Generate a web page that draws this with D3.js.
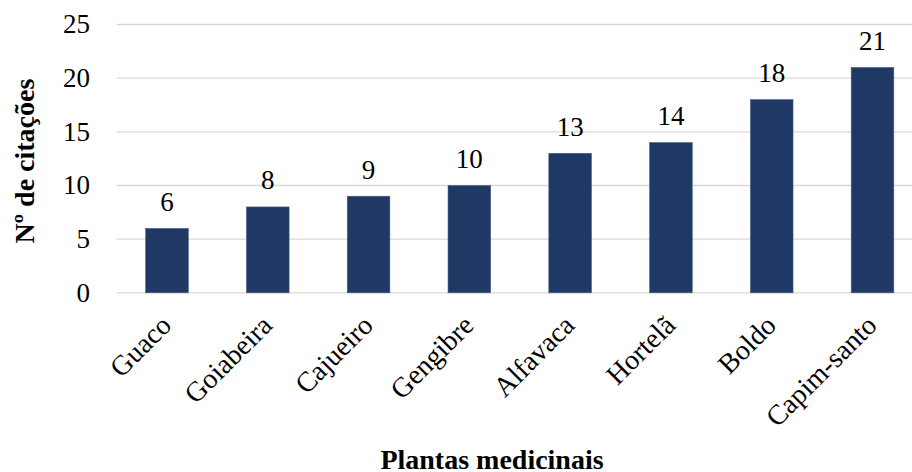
<!DOCTYPE html>
<meta charset="utf-8">
<title>Plantas medicinais</title>
<style>
body { margin: 0; background: #fff; }
svg { display: block; font-family: "Liberation Serif", "DejaVu Serif", Times, serif; }
.grid line { stroke: #d9d9d9; stroke-width: 1.3px; }
.bar { fill: #1f3864; stroke: #4a5f85; stroke-width: 0.6px; }
</style>
<script src="https://cdn.jsdelivr.net/npm/d3@7"></script>
<body>
<script>
var plantas = ["Guaco", "Goiabeira", "Cajueiro", "Gengibre", "Alfavaca", "Hortelã", "Boldo", "Capim-santo"];
var citacoes = [6, 8, 9, 10, 13, 14, 18, 21];
var yTicks = [0, 5, 10, 15, 20, 25];

var width = 912, height = 472;
var serif = "'Liberation Serif', 'DejaVu Serif', serif";
var svg = d3.select("body").append("svg")
    .attr("width", width)
    .attr("height", height)
    .attr("font-family", serif);

// plot area runs a bit past the right edge, like the original crop
var x = d3.scaleBand()
    .domain(plantas)
    .range([116.6, 922.9])
    .padding(0);
var y = d3.scaleLinear()
    .domain([0, 25])
    .range([292.8, 24.5]);

var barW = x.bandwidth() * 0.423;

// gridlines
svg.append("g").attr("class", "grid")
  .selectAll("line")
    .data(yTicks)
  .enter().append("line")
    .attr("x1", 116.6)
    .attr("x2", 922.9)
    .attr("y1", function(d) { return y(d); })
    .attr("y2", function(d) { return y(d); });

// y tick labels
svg.append("g")
  .selectAll("text")
    .data(yTicks)
  .enter().append("text")
    .attr("x", 90)
    .attr("y", function(d) { return y(d); })
    .attr("dy", "0.33em")
    .attr("text-anchor", "end")
    .style("font-family", serif)
    .style("font-size", "27px")
    .text(function(d) { return d; });

// bars
svg.append("g")
  .selectAll("rect")
    .data(citacoes)
  .enter().append("rect")
    .attr("class", "bar")
    .attr("x", function(d, i) { return x(plantas[i]) + (x.bandwidth() - barW) / 2; })
    .attr("y", function(d) { return y(d); })
    .attr("width", barW)
    .attr("height", function(d) { return y(0) - y(d); });

// value labels
svg.append("g")
  .selectAll("text")
    .data(citacoes)
  .enter().append("text")
    .attr("x", function(d, i) { return x(plantas[i]) + x.bandwidth() / 2; })
    .attr("y", function(d) { return y(d) - 17.5; })
    .attr("text-anchor", "middle")
    .style("font-family", serif)
    .style("font-size", "27px")
    .text(function(d) { return d; });

// category labels, rotated
svg.append("g")
  .selectAll("text")
    .data(plantas)
  .enter().append("text")
    .attr("transform", function(d) {
      return "translate(" + (x(d) + x.bandwidth() / 2 + 6) + ",327) rotate(-45)";
    })
    .attr("text-anchor", "end")
    .style("font-family", serif)
    .style("font-size", "28px")
    .text(function(d) { return d; });

// axis titles
svg.append("text")
    .attr("x", 492)
    .attr("y", 469)
    .attr("text-anchor", "middle")
    .style("font-family", serif)
    .style("font-size", "28px")
    .style("font-weight", "bold")
    .text("Plantas medicinais");

svg.append("text")
    .attr("transform", "translate(34,161) rotate(-90)")
    .attr("text-anchor", "middle")
    .style("font-family", serif)
    .style("font-size", "28px")
    .style("font-weight", "bold")
    .text("Nº de citações");
</script>
